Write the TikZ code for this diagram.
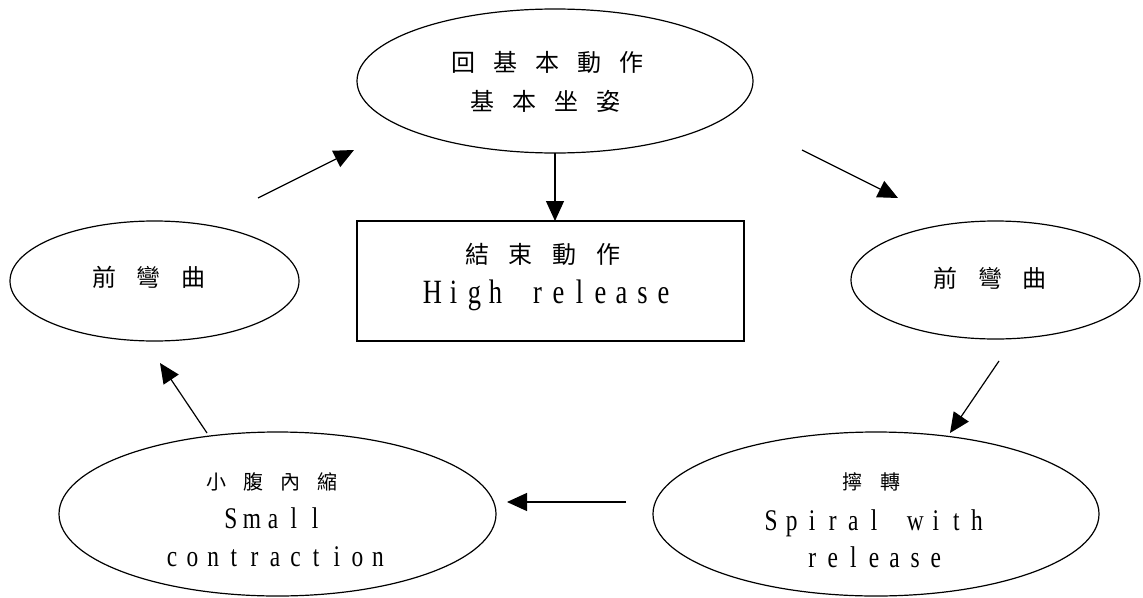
\documentclass[tikz,border=0pt]{standalone}
\usepackage{fontspec}
\usetikzlibrary{shapes.geometric,arrows.meta}
\newfontfamily\cjk{Noto Sans CJK TC}
\newfontfamily\latinf[FakeStretch=0.78]{Liberation Serif}
\def\spcw{0pt}
\def\spaced#1#2{\def\spcw{#1}\spacedloop#2\relax}
\def\spacedloop#1{\ifx\relax#1\else\makebox[\spcw]{#1}\expandafter\spacedloop\fi}
\tikzset{
  oval/.style={draw, ellipse, line width=1.2pt, inner sep=0pt},
  boxnode/.style={draw, rectangle, line width=1.4pt, inner sep=0pt},
  txt/.style={inner sep=0pt},
  flow/.style={line width=1.2pt, -{Triangle[length=20pt,width=18pt]}},
}
\begin{document}
\begin{tikzpicture}[x=1pt,y=-1pt]
\useasboundingbox (0,0) rectangle (1143,597);
% shapes
\node[oval, minimum width=396pt, minimum height=144pt] (top) at (555,81) {};
\node[boxnode, minimum width=387pt, minimum height=120pt] (end) at (550.5,281) {};
\node[oval, minimum width=289pt, minimum height=120pt] (left) at (154.5,281) {};
\node[oval, minimum width=289pt, minimum height=118pt] (right) at (995.5,280) {};
\node[oval, minimum width=437pt, minimum height=164pt] (bl) at (277.5,514) {};
\node[oval, minimum width=446pt, minimum height=164pt] (br) at (876,514) {};
% texts
\node[txt] (top1) at (547,62) {\cjk\fontsize{24pt}{24pt}\selectfont\spaced{42pt}{回基本動作}};
\node[txt] (top2) at (545,101) {\cjk\fontsize{24pt}{24pt}\selectfont\spaced{42pt}{基本坐姿}};
\node[txt] (end1) at (543,254) {\cjk\fontsize{24pt}{24pt}\selectfont\spaced{44pt}{結束動作}};
\node[txt, anchor=base] (end2) at (548,303) {\latinf\fontsize{34pt}{34pt}\selectfont\spaced{21pt}{High~release}};
\node[txt] (left1) at (149,277) {\cjk\fontsize{24pt}{24pt}\selectfont\spaced{44.5pt}{前彎曲}};
\node[txt] (right1) at (990,278) {\cjk\fontsize{24pt}{24pt}\selectfont\spaced{44.5pt}{前彎曲}};
\node[txt] (bl1) at (272,482) {\cjk\fontsize{20pt}{20pt}\selectfont\spaced{36.7pt}{小腹內縮}};
\node[txt, anchor=base] (bl2) at (273,528) {\latinf\fontsize{30pt}{30pt}\selectfont\spaced{21pt}{Small}};
\node[txt, anchor=base] (bl3) at (275,566) {\latinf\fontsize{30pt}{30pt}\selectfont\spaced{20.6pt}{contraction}};
\node[txt] (br1) at (871,482) {\cjk\fontsize{20pt}{20pt}\selectfont\spaced{38pt}{擰轉}};
\node[txt, anchor=base] (br2) at (874,530) {\latinf\fontsize{30pt}{30pt}\selectfont\spaced{20.6pt}{Spiral~with}};
\node[txt, anchor=base] (br3) at (874,567) {\latinf\fontsize{30pt}{30pt}\selectfont\spaced{20.6pt}{release}};
% connector ends
\coordinate (a1s) at (258,198); \coordinate (a1e) at (354,150);
\coordinate (a2s) at (802,150); \coordinate (a2e) at (898,198);
\coordinate (a3s) at (555,153); \coordinate (a3e) at (555,221);
\coordinate (a4s) at (999,361); \coordinate (a4e) at (950,433);
\coordinate (a5s) at (626,502); \coordinate (a5e) at (507,502);
\coordinate (a6s) at (207,433); \coordinate (a6e) at (160,363);
\draw[flow] (a1s) -- (a1e);
\draw[flow] (a2s) -- (a2e);
\draw[flow] (a3s) -- (a3e);
\draw[flow] (a4s) -- (a4e);
\draw[flow] (a5s) -- (a5e);
\draw[flow] (a6s) -- (a6e);
\end{tikzpicture}
\end{document}
